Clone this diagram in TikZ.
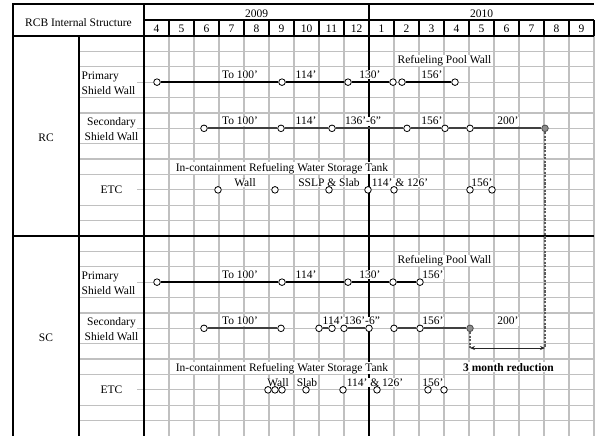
\documentclass[tikz,border=0pt]{standalone}
\usepackage{fontspec}
\setmainfont{Liberation Serif}
\usetikzlibrary{arrows.meta}
\definecolor{gridgray}{HTML}{C0C0C0}
\definecolor{slipgray}{HTML}{5A5A5A}

\begin{document}
\begin{tikzpicture}[
  x=1pt, y=-1pt,
  every node/.style={font=\fontsize{11.5}{15.4}\selectfont, inner sep=0.5pt},
  >={Stealth[length=5pt, width=4pt]},
  gridln/.style={draw=gridgray, line width=1.2pt},
  rule/.style={draw=black, line width=1.1pt},
  heavy/.style={draw=black, line width=2pt},
  tag/.style={anchor=base, fill=white, inner sep=0.6pt},
  milestone/.style={circle, draw=black, fill=white, line width=0.8pt,
    minimum size=6.6pt, inner sep=0pt},
  finish/.style={milestone, fill=black!45, draw=black!70},
  prim/.style={draw=black, line width=1.8pt},
  secd/.style={draw=black!75, line width=1.8pt},
  slip/.style={draw=slipgray, line width=2.6pt, dash pattern=on 2.2pt off 1.4pt},
  span/.style={<->, draw=black!85, line width=0.8pt}
]
\useasboundingbox (0,0) rectangle (595,436);

% Grid
\foreach \c in {1,...,18}
  \draw[gridln] ({144+25*\c},36) -- ({144+25*\c},436);
\foreach \s in {0,200} {
  \foreach \k in {1,...,12}
    \draw[gridln] (144,{36+\s+\k*15.385}) -- (594,{36+\s+\k*15.385});
  \foreach \k in {1,2,4,5,7,8,9,11,12}
    \draw[gridln] (79,{36+\s+\k*15.385}) -- (144,{36+\s+\k*15.385});
  \foreach \k in {3,6,10}
    \draw[gridln] (137,{36+\s+\k*15.385}) -- (144,{36+\s+\k*15.385});
}

% Frame
\draw[heavy] (13,436) -- (13,4) -- (594,4);
\draw[heavy] (144,4) -- (144,436);
\draw[heavy] (369,4) -- (369,436);
\draw[rule] (144,20) -- (594,20);
\draw[rule] (13,36) -- (594,36);
\draw[rule] (13,236) -- (594,236);
\draw[rule] (79,36) -- (79,436);
\foreach \c in {1,...,18}
  \draw[rule] ({144+25*\c},20) -- ({144+25*\c},36);

% Header
\node (title) at (78.5,22.5) {RCB Internal Structure};
\node[anchor=base] (y2009) at (256.5,17.5) {2009};
\node[anchor=base] (y2010) at (481.5,17.5) {2010};
\foreach \m [count=\c from 0] in {4,5,6,7,8,9,10,11,12,1,2,3,4,5,6,7,8,9}
  \node[anchor=base] (mon\c) at ({156.5+25*\c},32.3) {\m};

% Row labels
\node (rc) at (46,138) {RC};
\node (sc) at (46,338) {SC};
\node[align=left, anchor=west] (rcprim) at (81,83) {Primary\\Shield Wall};
\node[align=center] (rcsec) at (111.5,129) {Secondary\\Shield Wall};
\node (rcetc) at (111.5,190) {ETC};
\node[align=left, anchor=west] (scprim) at (81,283) {Primary\\Shield Wall};
\node[align=center] (scsec) at (111.5,329) {Secondary\\Shield Wall};
\node (scetc) at (111.5,390) {ETC};

% RC texts
\node[tag] (rpool) at (444.5,63.3) {Refueling Pool Wall};
\node[tag] (rpa) at (240,78.7) {To 100'};
\node[tag] (rpb) at (306,78.7) {114'};
\node[tag] (rpc) at (370,78.7) {130'};
\node[tag] (rpd) at (432,78.7) {156'};
\node[tag] (rsa) at (240,124.8) {To 100'};
\node[tag] (rsb) at (306,124.8) {114'};
\node[tag] (rsc) at (363,124.8) {136'-6"};
\node[tag] (rsd) at (432,124.8) {156'};
\node[tag] (rse) at (508,124.8) {200'};
\node[tag] (rtank) at (282,171) {In-containment Refueling Water Storage Tank};
\node[tag] (rea) at (245,186.3) {Wall};
\node[tag] (reb) at (329,186.3) {SSLP \& Slab};
\node[tag] (rec) at (400,186.3) {114' \& 126'};
\node[tag] (red) at (482,186.3) {156'};

% SC texts
\node[tag] (spool) at (444.5,263.3) {Refueling Pool Wall};
\node[tag] (spa) at (240,278.7) {To 100'};
\node[tag] (spb) at (306,278.7) {114'};
\node[tag] (spc) at (370,278.7) {130'};
\node[tag] (spd) at (433,278.7) {156'};
\node[tag] (ssa) at (240,324.8) {To 100'};
\node[tag] (ssb) at (333,324.8) {114'};
\node[tag] (ssc) at (362,324.8) {136'-6"};
\node[tag] (ssd) at (433,324.8) {156'};
\node[tag] (sse) at (508,324.8) {200'};
\node[tag] (stank) at (282,371) {In-containment Refueling Water Storage Tank};
\node[tag] (sea) at (278,386.3) {Wall};
\node[tag] (seb) at (307,386.3) {Slab};
\node[tag] (sec) at (375,386.3) {114' \& 126'};
\node[tag] (sed) at (433,386.3) {156'};
\node[tag, font=\fontsize{11.5}{15.4}\selectfont\bfseries] (cut) at (508.5,371) {3 month reduction};

% RC milestones
\foreach \x [count=\i] in {157,282,348,393,402,455}
  \node[milestone] (rp\i) at (\x,82.15) {};
\draw[prim] (rp1) -- (rp2) -- (rp3) -- (rp4);
\draw[prim] (rp5) -- (rp6);
\foreach \x [count=\i] in {204,281,332,407,445,470}
  \node[milestone] (rs\i) at (\x,128.31) {};
\node[finish] (rs7) at (545,128.31) {};
\draw[secd] (rs1) -- (rs2) -- (rs3) -- (rs4) -- (rs5) -- (rs6) -- (rs7);
\foreach \x [count=\i] in {218,275,329,368,394,470,492}
  \node[milestone] (re\i) at (\x,189.85) {};

% SC milestones
\foreach \x [count=\i] in {157,282,348,393,420}
  \node[milestone] (sp\i) at (\x,282.15) {};
\draw[prim] (sp1) -- (sp2) -- (sp3) -- (sp4) -- (sp5);
\foreach \x [count=\i] in {204,281,319,332,344,369,394,420}
  \node[milestone] (ss\i) at (\x,328.31) {};
\node[finish] (ss9) at (470,328.31) {};
\draw[secd] (ss1) -- (ss2);
\draw[secd] (ss3) -- (ss4);
\draw[secd] (ss5) -- (ss6);
\draw[secd] (ss7) -- (ss8) -- (ss9);
\foreach \x [count=\i] in {268,275,282,306,343,377,428,444}
  \node[milestone] (se\i) at (\x,389.85) {};

% Reduction
\coordinate (rdrop) at (545,348);
\coordinate (sdrop) at (470,348);
\draw[slip] (rs7) -- (rdrop);
\draw[slip] (ss9) -- (sdrop);
\draw[span] (sdrop) -- (rdrop);

\end{tikzpicture}
\end{document}
